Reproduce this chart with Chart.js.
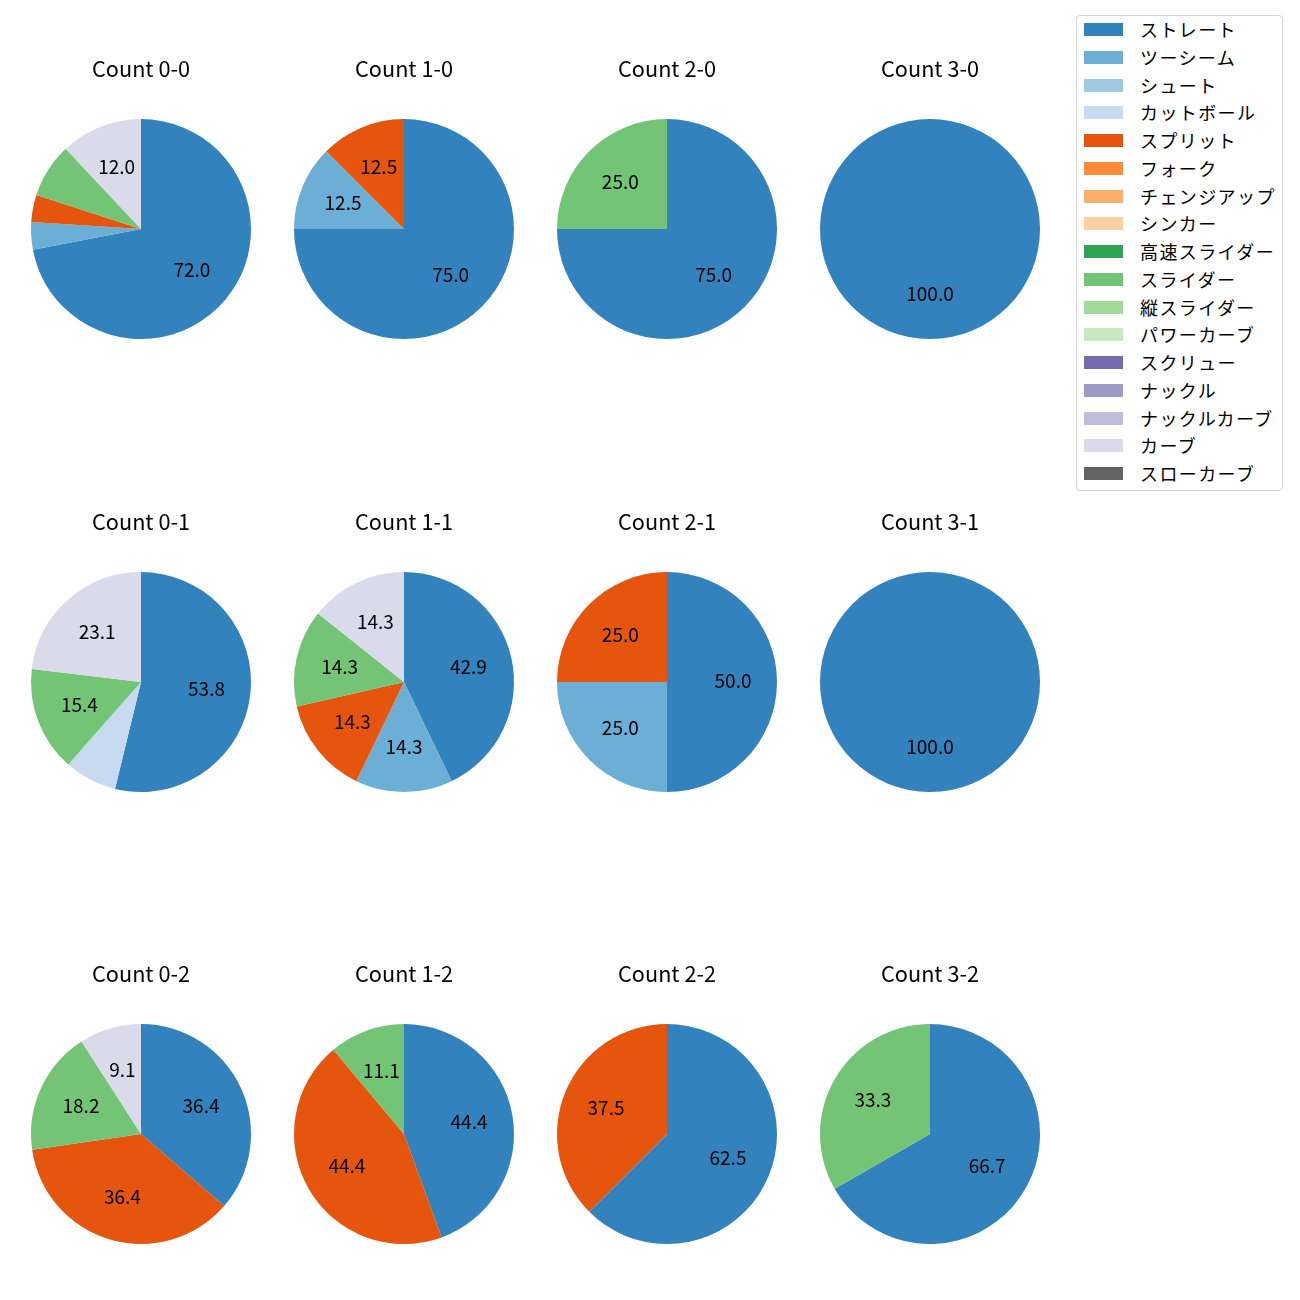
<!DOCTYPE html>
<html>
<head>
<meta charset="utf-8">
<script src="https://cdn.jsdelivr.net/npm/chart.js@4.4.0/dist/chart.umd.min.js"></script>
<style>
  html, body { margin: 0; padding: 0; background: #fff; }
  body { width: 1300px; height: 1300px; position: relative; overflow: hidden; font-family: "Noto Sans CJK JP", "Noto Sans", sans-serif; }
  .pie { position: absolute; }
  #legend { position: absolute; left: 1076px; top: 15px; width: 205px; height: 474px; border: 1px solid #d5d5d5; border-radius: 4px; background: #fff; }
  .li { position: absolute; left: 0; height: 20px; }
  .sw { position: absolute; left: 7px; width: 39px; height: 13px; }
  .lt { position: absolute; left: 63px; font-size: 18px; line-height: 20px; letter-spacing: 1.4px; white-space: nowrap; color: #000; }
</style>
</head>
<body>
<div id="legend"></div>
<script>
// ---- data ----
const pitchTypes = ['ストレート','ツーシーム','シュート','カットボール','スプリット','フォーク','チェンジアップ','シンカー','高速スライダー','スライダー','縦スライダー','パワーカーブ','スクリュー','ナックル','ナックルカーブ','カーブ','スローカーブ'];
const pitchColors = ['#3182bd','#6baed6','#9ecae1','#c6dbef','#e6550d','#fd8d3c','#fdae6b','#fdd0a2','#31a354','#74c476','#a1d99b','#c7e9c0','#756bb1','#9e9ac8','#bcbddc','#dadaeb','#636363'];
const countTitles = ['Count 0-0','Count 1-0','Count 2-0','Count 3-0','Count 0-1','Count 1-1','Count 2-1','Count 3-1','Count 0-2','Count 1-2','Count 2-2','Count 3-2'];
// percentages per pitch type (order of pitchTypes)
const count00 = [72.0, 4.0, 0, 0, 4.0, 0, 0, 0, 0, 8.0, 0, 0, 0, 0, 0, 12.0, 0];
const count10 = [75.0, 12.5, 0, 0, 12.5, 0, 0, 0, 0, 0, 0, 0, 0, 0, 0, 0, 0];
const count20 = [75.0, 0, 0, 0, 0, 0, 0, 0, 0, 25.0, 0, 0, 0, 0, 0, 0, 0];
const count30 = [100.0, 0, 0, 0, 0, 0, 0, 0, 0, 0, 0, 0, 0, 0, 0, 0, 0];
const count01 = [53.8, 0, 0, 7.7, 0, 0, 0, 0, 0, 15.4, 0, 0, 0, 0, 0, 23.1, 0];
const count11 = [42.9, 14.3, 0, 0, 14.3, 0, 0, 0, 0, 14.3, 0, 0, 0, 0, 0, 14.3, 0];
const count21 = [50.0, 25.0, 0, 0, 25.0, 0, 0, 0, 0, 0, 0, 0, 0, 0, 0, 0, 0];
const count31 = [100.0, 0, 0, 0, 0, 0, 0, 0, 0, 0, 0, 0, 0, 0, 0, 0, 0];
const count02 = [36.4, 0, 0, 0, 36.4, 0, 0, 0, 0, 18.2, 0, 0, 0, 0, 0, 9.1, 0];
const count12 = [44.4, 0, 0, 0, 44.4, 0, 0, 0, 0, 11.1, 0, 0, 0, 0, 0, 0, 0];
const count22 = [62.5, 0, 0, 0, 37.5, 0, 0, 0, 0, 0, 0, 0, 0, 0, 0, 0, 0];
const count32 = [66.7, 0, 0, 0, 0, 0, 0, 0, 0, 33.3, 0, 0, 0, 0, 0, 0, 0];
const countData = [count00, count10, count20, count30, count01, count11, count21, count31, count02, count12, count22, count32];

// ---- layout ----
const colCenters = [141, 404, 667, 930];
const rowCenters = [229, 682, 1134];
const pieRadius = 110;
const FONT = '"Noto Sans CJK JP", "Noto Sans", sans-serif';

Chart.defaults.color = '#000';
Chart.defaults.font.family = FONT;

const pctLabels = {
  id: 'pctLabels',
  afterDatasetsDraw(chart) {
    const ctx = chart.ctx;
    const ds = chart.data.datasets[0];
    const meta = chart.getDatasetMeta(0);
    const total = ds.data.reduce((a, b) => a + b, 0);
    ctx.save();
    ctx.font = '19px ' + FONT;
    ctx.fillStyle = '#000';
    ctx.textAlign = 'center';
    ctx.textBaseline = 'middle';
    meta.data.forEach((arc, i) => {
      const v = ds.data[i];
      if (!v) return;
      const pct = v / total * 100;
      if (pct < 9) return;
      const p = arc.getProps(['x', 'y', 'startAngle', 'endAngle', 'outerRadius'], true);
      const mid = (p.startAngle + p.endAngle) / 2;
      const r = p.outerRadius * 0.6;
      ctx.fillText(pct.toFixed(1), p.x + Math.cos(mid) * r, p.y + Math.sin(mid) * r - 1);
    });
    ctx.restore();
  }
};

const CW = 262, PT = 5, LH = 26, PB = 32, AREA = 230;
countData.forEach((vals, k) => {
  const col = k % 4, row = Math.floor(k / 4);
  const cx = colCenters[col], cy = rowCenters[row];
  const H = PT + LH + PB + AREA;
  const top = cy - AREA / 2 - (PT + LH + PB);
  const wrap = document.createElement('div');
  wrap.className = 'pie';
  wrap.style.left = (cx - CW / 2) + 'px';
  wrap.style.top = top + 'px';
  wrap.style.width = CW + 'px';
  wrap.style.height = H + 'px';
  const cv = document.createElement('canvas');
  wrap.appendChild(cv);
  document.body.appendChild(wrap);
  new Chart(cv, {
    type: 'pie',
    data: {
      labels: pitchTypes,
      datasets: [{
        data: vals,
        backgroundColor: pitchColors,
        borderWidth: 0,
        radius: pieRadius
      }]
    },
    options: {
      responsive: true,
      maintainAspectRatio: false,
      animation: false,
      layout: { padding: 0 },
      plugins: {
        legend: { display: false },
        tooltip: { enabled: false },
        title: {
          display: true,
          text: countTitles[k],
          color: '#000',
          font: { size: 21.7, weight: 'normal', family: FONT, lineHeight: 1.2 },
          padding: { top: PT, bottom: PB }
        }
      }
    },
    plugins: [pctLabels]
  });
});

// ---- legend ----
const lg = document.getElementById('legend');
pitchTypes.forEach((name, i) => {
  const cyl = 29 + 27.75 * i - 16;
  const d = document.createElement('div');
  d.className = 'li';
  d.style.top = (cyl - 10) + 'px';
  const sw = document.createElement('div');
  sw.className = 'sw';
  sw.style.top = '4px';
  sw.style.background = pitchColors[i];
  const t = document.createElement('div');
  t.className = 'lt';
  t.textContent = name;
  d.appendChild(sw);
  d.appendChild(t);
  lg.appendChild(d);
});
</script>
</body>
</html>
